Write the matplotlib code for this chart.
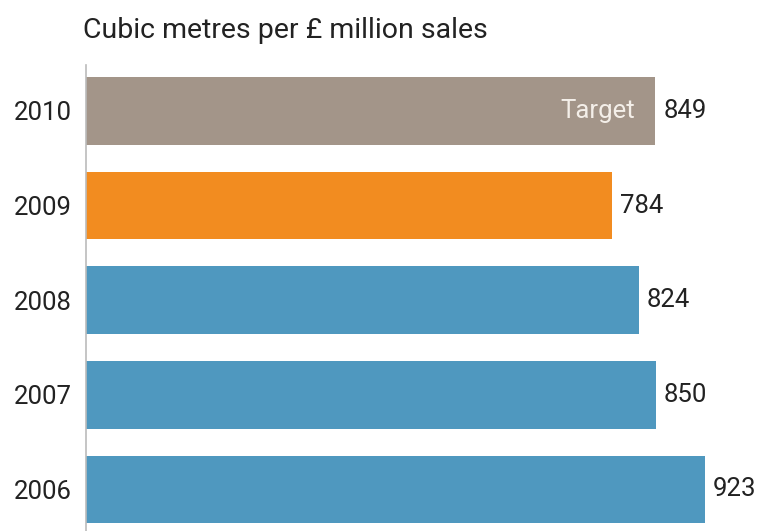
import matplotlib.pyplot as plt

# --- Water use per year, bottom to top
years = ["2006", "2007", "2008", "2009", "2010"]
values = [923, 850, 824, 784, 849]
colors = ["#4f98bf", "#4f98bf", "#4f98bf", "#f28c20", "#a39589"]
title = "Cubic metres per £ million sales"

plt.rcParams["font.family"] = ["Roboto", "DejaVu Sans"]
fs = 18.5

fig = plt.figure(figsize=(7.59, 5.31), dpi=100)
ax = fig.add_axes([86 / 759, 0, 1 - 86 / 759, 1 - 65 / 531])

pos = list(range(len(years)))
ax.barh(pos, values, height=0.715, color=colors)
ax.set_xlim(0, 1003.6)
ax.set_ylim(-0.439, 4.486)

ax.set_yticks(pos)
ax.set_yticklabels(years, fontsize=fs, color="#222222")
ax.tick_params(axis="y", length=0, pad=10)
ax.set_xticks([])
for s in ["top", "right", "bottom"]:
    ax.spines[s].set_visible(False)
ax.spines["left"].set_color("#bbbbbb")
ax.spines["left"].set_linewidth(1.2)

for p, v in zip(pos, values):
    ax.text(v + 12, p, str(v), va="center", ha="left", fontsize=fs, color="#222222")

# the 2010 bar is the target
ax.text(values[-1] - 30, pos[-1], "Target", va="center", ha="right",
        fontsize=fs, color="#f4efe9")

fig.text(83 / 759, 1 - 31 / 531, title, va="center", ha="left", fontsize=20.5, color="#222222")

fig.savefig("out.png", dpi=100)
